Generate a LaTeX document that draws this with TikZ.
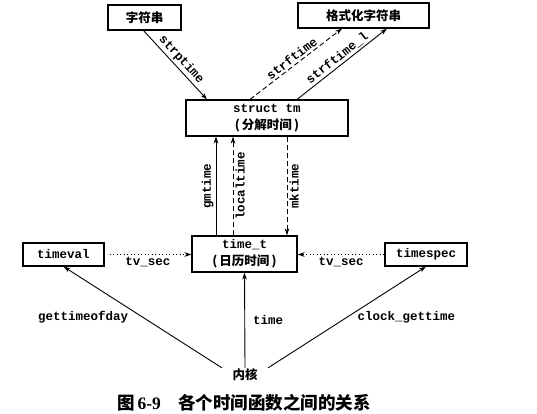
\documentclass[tikz,border=0pt]{standalone}
\usepackage{fontspec}
\setmainfont{Liberation Serif}
\setmonofont{Liberation Mono}
\newfontfamily\cjk{Noto Sans CJK SC}
\usetikzlibrary{arrows.meta}

\begin{document}
\begin{tikzpicture}[x=1pt, y=-1pt, >={Stealth[length=7pt,width=4.5pt]},
    box/.style={draw, line width=1.1pt, inner sep=0pt, align=center},
    fn/.style={font=\ttfamily\bfseries\fontsize{12.5}{17}\selectfont, inner sep=2pt},
    zh/.style={font=\cjk\bfseries\fontsize{12.5}{17}\selectfont},
    link/.style={->, line width=0.9pt},
    dashlink/.style={->, line width=0.9pt, dash pattern=on 5pt off 3pt},
    dotlink/.style={->, line width=1.2pt, dash pattern=on 1.2pt off 2.3pt}]
  \useasboundingbox (0,0) rectangle (537,414);

  % boxes
  \node[box, zh, minimum width=73, minimum height=25] (str) at (144.5,17.5) {字符串};
  \node[box, zh, minimum width=131, minimum height=25] (fmt) at (363.5,15.5) {格式化字符串};
  \node[box, fn, minimum width=162, minimum height=36] (tm) at (267,118) {struct tm\\{\cjk\bfseries (\,分解时间\,)}};
  \node[box, fn, minimum width=105, minimum height=36] (tt) at (244.5,254) {time\_t\\{\cjk\bfseries (\,日历时间\,)}};
  \node[box, fn, minimum width=81, minimum height=23] (tv) at (63.5,254.5) {timeval};
  \node[box, fn, minimum width=82, minimum height=23] (ts) at (426,254.5) {timespec};
  \node[zh, minimum width=46, inner sep=1pt] (kern) at (245,375) {内核};
  \node[font=\cjk\bfseries\fontsize{17.5}{20}\selectfont] (cap) at (244,403) {图\,{\rmfamily\bfseries 6-9}\quad 各个时间函数之间的关系};

  % struct tm <-> strings
  \draw[link] ([xshift=-1]str.south) -- ([xshift=-60]tm.north) node[midway, sloped, above, fn]{strptime};
  \draw[dashlink] ([xshift=-17]tm.north) -- ([xshift=-21.5]fmt.south) node[midway, sloped, above, fn]{strftime};
  \draw[link] ([xshift=30]tm.north) -- ([xshift=23.5]fmt.south) node[midway, sloped, above, fn]{strftime\_l};

  % time_t <-> struct tm
  \coordinate (gm) at ([xshift=-28.5]tt.north);
  \coordinate (lt) at ([xshift=-11.5]tt.north);
  \coordinate (mk) at ([xshift=42.5]tt.north);
  \draw[link] (gm) -- (gm |- tm.south) node[midway, rotate=90, above, fn]{gmtime};
  \draw[dashlink] (lt) -- (lt |- tm.south) node[midway, rotate=90, below, fn]{localtime};
  \draw[dashlink] (mk |- tm.south) -- (mk) node[midway, rotate=90, below, fn]{mktime};

  % tv_sec
  \draw[dotlink, shorten <=5pt] (tv.east) -- (tv.east -| tt.west) node[midway, below, fn]{tv\_sec};
  \draw[dotlink] (ts.west) -- (ts.west -| tt.east) node[midway, below, fn]{tv\_sec};

  % kernel
  \draw[link] (kern.north west) -- (tv.south) node[midway, left=12pt, fn]{gettimeofday};
  \draw[link] (kern.north) -- (tt.south) node[midway, right=6pt, fn]{time};
  \draw[link] (kern.north east) -- (ts.south) node[midway, right=8pt, fn]{clock\_gettime};
\end{tikzpicture}
\end{document}
